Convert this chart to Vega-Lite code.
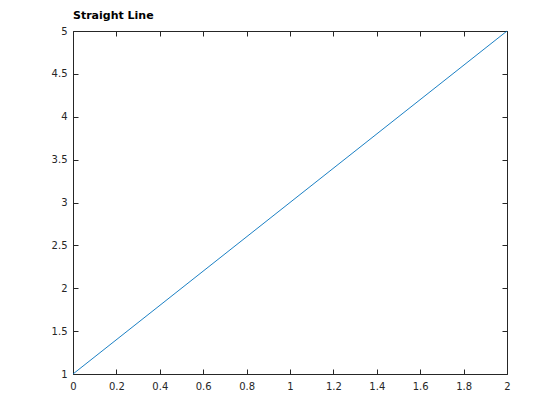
{
  "$schema": "https://vega.github.io/schema/vega-lite/v6.json",
  "width": 434,
  "height": 343,
  "autosize": "none",
  "padding": {"left": 73, "top": 31, "right": 53, "bottom": 46},
  "background": "white",
  "config": {
    "view": {"stroke": "#262626", "strokeWidth": 1},
    "font": "DejaVu Sans",
    "axis": {
      "grid": false,
      "domain": false,
      "tickColor": "#262626",
      "tickSize": -5,
      "tickWidth": 1,
      "labelColor": "#262626",
      "labelFont": "DejaVu Sans",
      "labelFontSize": 10,
      "labelFlush": false,
      "labelOverlap": false,
      "format": "~g",
      "title": null
    }
  },
  "title": {
    "text": "Straight Line",
    "anchor": "start",
    "frame": "group",
    "font": "DejaVu Sans",
    "fontSize": 11,
    "fontWeight": "bold",
    "color": "#000000",
    "offset": 5
  },
  "data": {"values": [{"x": 0, "y": 1}, {"x": 2, "y": 5}]},
  "layer": [
    {
      "mark": {"type": "line", "color": "#0072BD", "strokeWidth": 0.9},
      "encoding": {
        "x": {"field": "x", "type": "quantitative", "scale": {"domain": [0, 2], "nice": false}, "axis": {"orient": "bottom", "values": [0, 0.2, 0.4, 0.6, 0.8, 1, 1.2, 1.4, 1.6, 1.8, 2], "labelPadding": 12}},
        "y": {"field": "y", "type": "quantitative", "scale": {"domain": [1, 5], "nice": false, "zero": false}, "axis": {"orient": "left", "values": [1, 1.5, 2, 2.5, 3, 3.5, 4, 4.5, 5], "labelPadding": 11}}
      }
    },
    {
      "mark": {"type": "line", "opacity": 0},
      "encoding": {
        "x": {"field": "x", "type": "quantitative", "scale": {"domain": [0, 2], "nice": false}, "axis": {"orient": "top", "labels": false, "values": [0, 0.2, 0.4, 0.6, 0.8, 1, 1.2, 1.4, 1.6, 1.8, 2]}},
        "y": {"field": "y", "type": "quantitative", "scale": {"domain": [1, 5], "nice": false, "zero": false}, "axis": {"orient": "right", "labels": false, "values": [1, 1.5, 2, 2.5, 3, 3.5, 4, 4.5, 5]}}
      }
    }
  ],
  "resolve": {"axis": {"x": "independent", "y": "independent"}}
}
